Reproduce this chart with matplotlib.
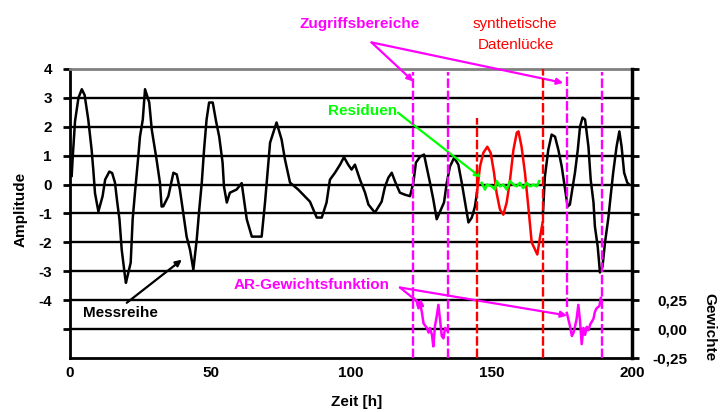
import numpy as np
import matplotlib
matplotlib.use("Agg")
import matplotlib.pyplot as plt

plt.rcParams['font.family'] = ['Liberation Sans', 'DejaVu Sans']

MAGENTA = '#ff00ff'
RED = '#ff0000'
GREEN = '#00ff00'

# measured series (before the gap)
t_obs1 = [0.6, 1.0, 1.8, 3.0, 4.2, 5.2, 6.5, 7.7, 8.3, 8.9, 10.1, 11.6, 12.5, 14.0, 15.0,
          16.0, 16.8, 17.6, 18.4, 19.6, 19.9, 21.6, 22.3, 23.1, 24.3, 24.9, 25.9, 26.7,
          28.2, 29.1, 30.8, 32.0, 32.6, 33.2, 35.0, 36.8, 38.0, 39.1, 40.3, 41.5, 42.7,
          43.9, 45.1, 46.0, 46.9, 47.7, 48.6, 49.5, 50.8, 52.0, 53.1, 54.3, 54.8, 55.8,
          56.9, 59.3, 61.1, 62.9, 64.7, 68.2, 69.4, 71.2, 73.5, 75.3, 76.5, 78.3, 81.2,
          85.4, 87.8, 89.6, 91.3, 92.5, 94.3, 96.1, 97.5, 99.0, 100.2, 101.4, 103.2,
          105.0, 106.2, 108.5, 110.9, 112.1, 113.3, 114.5, 115.7, 117.4, 119.2, 121.0,
          122.2, 123.1, 124.6, 126.0, 126.9, 128.1, 129.3, 130.5, 131.7, 133.1, 134.1,
          135.2, 136.7, 138.2, 139.4, 140.6, 141.8, 143.0, 144.1, 144.8]
y_obs1 = [0.3, 1.0, 2.2, 3.0, 3.3, 3.1, 2.25, 1.2, 0.5, -0.3, -0.93, -0.4, 0.17, 0.45, 0.4,
          0.07, -0.6, -1.2, -2.25, -3.2, -3.4, -2.7, -1.2, -0.3, 0.97, 1.66, 2.25, 3.3,
          2.84, 1.9, 0.87, 0.07, -0.76, -0.75, -0.4, 0.41, 0.35, -0.17, -0.98, -1.8, -2.25,
          -2.94, -1.9, -0.86, 0.07, 1.2, 2.25, 2.84, 2.84, 2.18, 1.66, 0.76, -0.07, -0.62,
          -0.28, -0.17, 0.05, -1.2, -1.8, -1.8, -0.62, 1.45, 2.15, 1.56, 0.87, 0.07, -0.17,
          -0.59, -1.14, -1.14, -0.62, 0.17, 0.41, 0.69, 0.95, 0.69, 0.52, 0.69, 0.17,
          -0.28, -0.69, -0.97, -0.59, -0.07, 0.24, 0.41, 0.1, -0.28, -0.35, -0.4,
          0.07, 0.76, 0.97, 1.04, 0.62, 0.07, -0.52, -1.2, -0.93, -0.62, 0.07,
          0.62, 0.93, 0.69, 0.07, -0.62, -1.31, -1.14, -0.76, -0.3]

# measured series (after the gap)
t_obs2 = [168.3, 169.0, 170.2, 171.4, 172.6, 173.8, 175.0, 176.2, 177.1, 177.9, 178.9,
          179.7, 180.7, 181.5, 182.4, 183.3, 184.5, 185.3, 186.3, 186.8, 187.8, 188.6,
          189.5, 190.4, 191.6, 192.4, 193.3, 194.5, 195.5, 196.3, 197.2, 198.3, 199.0]
y_obs2 = [-1.0, 0.28, 1.2, 1.73, 1.66, 1.2, 0.62, -0.17, -0.76, -0.69, -0.07,
          0.41, 1.2, 2.0, 2.32, 2.25, 1.31, 0.17, -0.62, -1.45, -2.15, -3.04,
          -2.84, -2.0, -1.14, -0.4, 0.41, 1.31, 1.84, 1.31, 0.41, 0.07, 0.0]

# synthetic gap
t_gap = [144.8, 145.9, 147.1, 148.5, 149.7, 150.9, 151.8, 153.0, 154.2, 155.4, 156.6,
         157.8, 159.0, 159.6, 160.7, 161.9, 163.1, 164.3, 165.5, 166.3, 167.3, 168.2]
y_gap = [-0.3, 0.62, 1.1, 1.31, 1.1, 0.41, -0.28, -0.86, -1.04, -0.62, 0.17,
         1.2, 1.8, 1.84, 1.31, 0.41, -0.76, -2.0, -2.25, -2.42, -1.8, -1.31]

# residuals
t_res = [146.5, 147.7, 148.3, 150.1, 151.2, 151.9, 153.0, 154.2, 155.4, 156.6, 157.8,
         159.0, 160.1, 161.3, 162.5, 163.7, 164.9, 166.1, 167.0]
y_res = [0.06, -0.17, 0.0, -0.06, -0.17, 0.12, -0.06, 0.0, -0.17, 0.12, 0.0,
         -0.06, 0.06, -0.12, 0.06, -0.06, 0.0, -0.06, 0.12]

# AR weight functions (right axis)
t_wf = [122.2, 123.4, 124.0, 124.6, 125.2, 125.8, 127.0, 127.6, 128.1, 128.8, 129.3,
        129.9, 130.5, 131.1, 131.7, 132.3, 132.9, 133.5, 134.1]
w_wf = [0.27, 0.24, 0.18, 0.22, 0.15, 0.05, 0.01, -0.03, 0.01, -0.05, -0.15,
        0.03, 0.11, 0.21, 0.08, -0.06, -0.08, 0.01, -0.01]
t_wb = [176.8, 177.4, 178.0, 178.6, 179.2, 179.7, 180.3, 180.9, 181.5, 182.1, 182.7,
        183.3, 183.9, 184.5, 185.1, 186.3, 186.8, 187.4, 188.4, 188.9]
w_wb = [0.14, 0.08, 0.02, -0.06, -0.03, 0.02, 0.09, 0.21, 0.07, -0.13, 0.01,
        -0.05, 0.02, -0.01, 0.04, 0.09, 0.15, 0.18, 0.2, 0.27]

access_bounds = [122.1, 134.5, 176.9, 189.3]
gap_bounds = [144.8, 168.3]

x_ticks = [0, 50, 100, 150, 200]
y_ticks = list(range(-5, 5))
y_labels = [''] + [str(v) for v in range(-4, 5)]
w_ticks = list(np.arange(-0.25, 2.26, 0.25))
w_labels = ['-0,25', '0,00', '0,25'] + [''] * (len(w_ticks) - 3)

fig = plt.figure(figsize=(7.25, 4.12), dpi=100)
ax = fig.add_axes([70 / 725, 54 / 412, 562 / 725, 289 / 412])
ax.set_xlim(0, 200)
ax.set_ylim(-6, 4)

for v in range(-5, 4):
    ax.axhline(v, color='black', lw=1.7, zorder=1)

ax.plot(t_obs1, y_obs1, color='black', lw=1.8, zorder=3)
ax.plot(t_obs2, y_obs2, color='black', lw=1.8, zorder=3)
ax.plot(t_gap, y_gap, color=RED, lw=1.8, zorder=3)
ax.plot(t_res, y_res, color=GREEN, lw=1.8, zorder=4)

# access ranges and gap bounds
dash = (0, (4, 1.2))
tops = [3.9, 3.9, 3.9, 3.9]
bottoms = [-6, -6, -4.25, -6]
for x, y0, y1 in zip(access_bounds, bottoms, tops):
    ax.plot([x, x], [y0, y1], color=MAGENTA, lw=1.7, ls=dash, zorder=5)
ax.plot([gap_bounds[0]] * 2, [-6, 2.3], color=RED, lw=1.7, ls=dash, zorder=5)
ax.plot([gap_bounds[1]] * 2, [-6, 4.0], color=RED, lw=1.7, ls=dash, zorder=5)

ax.set_xticks(x_ticks)
ax.set_xticklabels([str(v) for v in x_ticks], fontsize=11, fontweight='bold')
ax.set_yticks(y_ticks)
ax.set_yticklabels(y_labels, fontsize=11, fontweight='bold')
ax.tick_params(axis='x', length=0, pad=6)
ax.tick_params(axis='y', direction='out', length=5, width=2, pad=8)
ax.spines['left'].set_linewidth(2)
ax.spines['bottom'].set_linewidth(2)
ax.spines['top'].set_color('#808080')
ax.spines['top'].set_linewidth(2)
ax.spines['right'].set_visible(False)

ax2 = ax.twinx()
ax2.set_ylim(-0.25, 2.25)
ax2.plot(t_wf, w_wf, color=MAGENTA, lw=1.8, zorder=3)
ax2.plot(t_wb, w_wb, color=MAGENTA, lw=1.8, zorder=3)
ax2.set_yticks(w_ticks)
ax2.set_yticklabels(w_labels, fontsize=11, fontweight='bold')
for lbl in ax2.get_yticklabels():
    lbl.set_horizontalalignment('right')
ax2.tick_params(axis='y', direction='out', length=5, width=2, pad=35)
ax2.spines['right'].set_linewidth(2.5)
for s in ['left', 'top', 'bottom']:
    ax2.spines[s].set_visible(False)

# annotations
arrow_kw = dict(arrowstyle='-|>', lw=1.6, mutation_scale=9, shrinkA=0, shrinkB=0)

ax.text(103.2, 5.57, 'Zugriffsbereiche', color=MAGENTA, fontsize=11, fontweight='bold',
        ha='center', va='center', clip_on=False)
for tgt in [(122.2, 3.57), (175.5, 3.52)]:
    ax.annotate('', xy=tgt, xytext=(107.3, 4.92), annotation_clip=False,
                arrowprops=dict(color=MAGENTA, **arrow_kw))

ax.text(158.3, 5.57, 'synthetische', color=RED, fontsize=11, ha='center', va='center',
        clip_on=False)
ax.text(158.7, 4.84, 'Datenlücke', color=RED, fontsize=11, ha='center', va='center',
        clip_on=False)

ax.text(116.5, 2.53, 'Residuen', color=GREEN, fontsize=11, fontweight='bold',
        ha='right', va='center')
ax.annotate('', xy=(146.3, 0.24), xytext=(116.7, 2.49),
            arrowprops=dict(color=GREEN, **arrow_kw))

ax.text(113.9, -3.46, 'AR-Gewichtsfunktion', color=MAGENTA, fontsize=11, fontweight='bold',
        ha='right', va='center')
for tgt in [(126.3, -4.26), (176.9, -4.53)]:
    ax.annotate('', xy=tgt, xytext=(117.4, -3.56),
                arrowprops=dict(color=MAGENTA, **arrow_kw))

ax.text(18.1, -4.43, 'Messreihe', color='black', fontsize=11, fontweight='bold',
        ha='center', va='center')
ax.annotate('', xy=(39.8, -2.6), xytext=(20.2, -4.09),
            arrowprops=dict(color='black', **arrow_kw))

fig.text(21 / 725, 1 - 209 / 412, 'Amplitude', rotation=90, fontsize=11, fontweight='bold',
         ha='center', va='center')
fig.text(709 / 725, 1 - 327 / 412, 'Gewichte', rotation=-90, fontsize=11, fontweight='bold',
         ha='center', va='center')
fig.text(357 / 725, 1 - 402 / 412, 'Zeit [h]', fontsize=11, fontweight='bold',
         ha='center', va='center')

fig.savefig('out.png', dpi=100)
